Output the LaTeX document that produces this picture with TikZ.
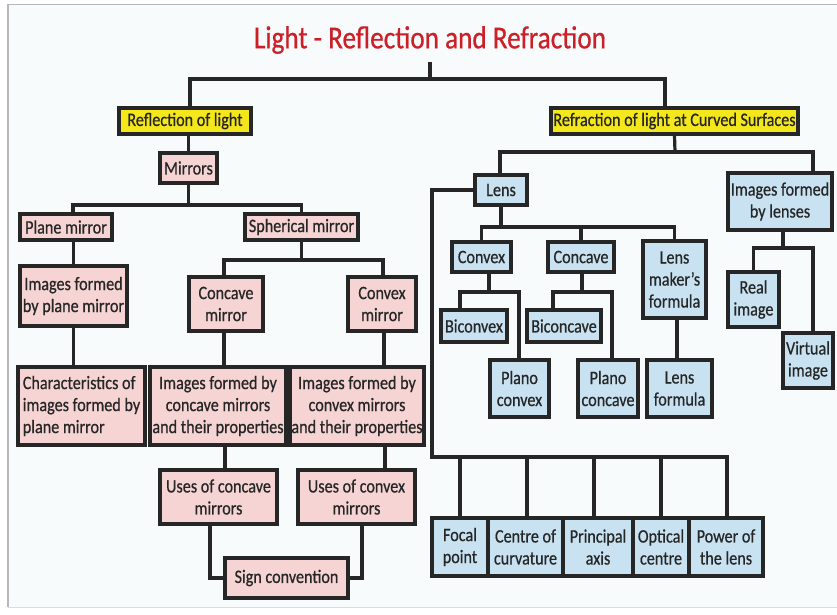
\documentclass[tikz,border=0pt]{standalone}
\usepackage{fontspec}
\setmainfont{Carlito}[FakeStretch=0.85, FakeBold=0.6]
\definecolor{linecol}{HTML}{262626}
\definecolor{textcol}{HTML}{262626}
\definecolor{titlered}{HTML}{CC2029}
\definecolor{pinkfill}{HTML}{F6D4D4}
\definecolor{bluefill}{HTML}{C8E2F2}
\definecolor{yellowfill}{HTML}{F4E81C}
\definecolor{pagebg}{HTML}{F7FBFB}
\definecolor{framecol}{HTML}{B4B8B8}
\begin{document}
\begin{tikzpicture}[x=1pt,y=-1pt,
  box/.style={draw=linecol, line width=3.2pt, text=textcol, inner sep=0pt,
    align=center, font=\fontsize{19}{22}\selectfont},
  pinkbox/.style={box, fill=pinkfill},
  bluebox/.style={box, fill=bluefill},
  yellowbox/.style={box, fill=yellowfill},
  sz/.style 2 args={minimum width=#1pt, minimum height=#2pt},
  conn/.style={draw=linecol, line width=3.2pt},
  titletext/.style={text=titlered, inner sep=2pt, font=\fontsize{32}{36}\selectfont}]

% page and frame
\useasboundingbox (0,0) rectangle (837,615);
\fill[white] (0,0) rectangle (837,615);
\fill[pagebg] (8,4.5) rectangle (837,607);
\draw[framecol, line width=1.2pt] (8,607) -- (8,4.5) -- (837,4.5);
\draw[framecol!50, line width=1pt] (8,607) -- (837,607);

% title
\node[titletext] (title) at (430,40) {Light - Reflection and Refraction};

% top level
\node[yellowbox, sz={132}{26}] (refl) at (185,121) {Reflection of light};
\node[yellowbox, sz={247}{26}] (refr) at (674.5,121) {Refraction of light at Curved Surfaces};

% reflection branch
\node[pinkbox, sz={57}{30}] (mirrors) at (188.5,168) {Mirrors};
\node[pinkbox, sz={92}{26}] (plane) at (66,227) {Plane mirror};
\node[pinkbox, sz={113}{26}] (spher) at (301.5,227) {Spherical mirror};
\node[pinkbox, sz={107}{60}] (imgplane) at (73.5,296) {Images formed\\by plane mirror};
\node[pinkbox, sz={74}{54}] (ccvmir) at (226,304) {Concave\\mirror};
\node[pinkbox, sz={68}{54}] (cvxmir) at (382,304) {Convex\\mirror};
\node[pinkbox, sz={127}{78}, align=left] (charac) at (81.5,406) {Characteristics of\\images formed by\\plane mirror};
\node[pinkbox, sz={136}{78}] (imgccv) at (218,406) {Images formed by\\concave mirrors\\and their properties};
\node[pinkbox, sz={134}{78}] (imgcvx) at (357,406) {Images formed by\\convex mirrors\\and their properties};
\node[pinkbox, sz={117}{54}] (useccv) at (218.5,497) {Uses of concave\\mirrors};
\node[pinkbox, sz={117}{54}] (usecvx) at (356.5,497) {Uses of convex\\mirrors};
\node[pinkbox, sz={123}{40}] (sign) at (286.5,578) {Sign convention};

% refraction branch
\node[bluebox, sz={52}{30}] (lens) at (501,190) {Lens};
\node[bluebox, sz={104}{57}] (imglens) at (780,201.5) {Images formed\\by lenses};
\node[bluebox, sz={59}{30}] (convex) at (481.5,257) {Convex};
\node[bluebox, sz={66}{30}] (concave) at (581,257) {Concave};
\node[bluebox, sz={63}{77}] (lmf) at (674.5,279.5) {Lens\\maker's\\formula};
\node[bluebox, sz={66}{32}] (biconvex) at (474,326) {Biconvex};
\node[bluebox, sz={59}{57}] (planocvx) at (519.5,388.5) {Plano\\convex};
\node[bluebox, sz={74}{32}] (biconcave) at (564,326) {Biconcave};
\node[bluebox, sz={60}{57}] (planoccv) at (608,388.5) {Plano\\concave};
\node[bluebox, sz={65}{57}] (lensf) at (679.5,388.5) {Lens\\formula};
\node[bluebox, sz={51}{55}] (real) at (753.5,299.5) {Real\\image};
\node[bluebox, sz={50}{55}] (virtual) at (808,360.5) {Virtual\\image};

% lens terms
\node[bluebox, sz={56}{58}] (focal) at (460,547) {Focal\\point};
\node[bluebox, sz={75}{58}] (centre) at (525.5,547) {Centre of\\curvature};
\node[bluebox, sz={70}{58}] (principal) at (598,547) {Principal\\axis};
\node[bluebox, sz={56}{58}] (optical) at (661,547) {Optical\\centre};
\node[bluebox, sz={74}{58}] (power) at (726,547) {Power of\\the lens};

% junction points
\coordinate (tj) at (430,79);
\coordinate (mj) at (188.5,205);
\coordinate (sj) at (301.5,260);
\coordinate (rj) at (675,152);
\coordinate (lj) at (501,227);
\coordinate (cvj) at (489,292);
\coordinate (ccj) at (582,292);
\coordinate (ij) at (783,248);
\coordinate (bj) at (432,457);

% connectors: title
\draw[conn] ([yshift=-6pt]title.south) -- (tj);
\draw[conn] ([xshift=5pt]refl.north) |- (tj) -| ([xshift=-9.5pt]refr.north);

% connectors: reflection
\draw[conn] (mirrors.north) -- (mirrors.north |- refl.south);
\draw[conn] (mirrors.south) -- (mj);
\draw[conn] ([xshift=7pt]plane.north) |- (mj) -| (spher.north);
\draw[conn] (imgplane.north) -- (imgplane.north |- plane.south);
\draw[conn] (spher.south) -- (sj);
\draw[conn] ([xshift=-2pt]ccvmir.north) |- (sj) -| ([xshift=1pt]cvxmir.north);
\draw[conn] (imgplane.south) -- (imgplane.south |- charac.north);
\draw[conn] ([xshift=-2pt]ccvmir.south) -- ([xshift=-2pt]ccvmir.south |- imgccv.north);
\draw[conn] ([xshift=2pt]cvxmir.south) -- ([xshift=2pt]cvxmir.south |- imgcvx.north);
\draw[conn] ([xshift=6.5pt]useccv.north) -- ([xshift=6.5pt]useccv.north |- imgccv.south);
\draw[conn] ([xshift=28.5pt]usecvx.north) -- ([xshift=28.5pt]usecvx.north |- imgcvx.south);
\draw[conn] ([xshift=-8.5pt]useccv.south) |- (sign.west);
\draw[conn] ([xshift=5.5pt]usecvx.south) |- (sign.east);

% connectors: refraction
\draw[conn] (refr.south) -- (rj);
\draw[conn] ([xshift=-1pt]lens.north) |- (rj) -| ([xshift=33pt]imglens.north);
\draw[conn] (lens.south) -- (lj);
\draw[conn] (convex.north) |- (lj) -| (lmf.north);
\draw[conn] (concave.north) -- (concave.north |- lj);
\draw[conn] ([xshift=7.5pt]convex.south) -- (cvj);
\draw[conn] ([xshift=-14pt]biconvex.north) |- (cvj) -| ([xshift=-0.5pt]planocvx.north);
\draw[conn] ([xshift=1pt]concave.south) -- (ccj);
\draw[conn] ([xshift=-11pt]biconcave.north) |- (ccj) -| ([xshift=4pt]planoccv.north);
\draw[conn] ([xshift=2.5pt]lmf.south) -- ([xshift=2.5pt]lmf.south |- lensf.north);
\draw[conn] ([xshift=3pt]imglens.south) -- (ij);
\draw[conn] (real.north) |- (ij) -| ([xshift=5pt]virtual.north);

% connectors: lens terms
\draw[conn] (lens.west) -| (bj) -| ([xshift=1pt]power.north);
\draw[conn] (focal.north) -- (focal.north |- bj);
\draw[conn] ([xshift=1.5pt]centre.north) -- ([xshift=1.5pt]centre.north |- bj);
\draw[conn] ([xshift=-4pt]principal.north) -- ([xshift=-4pt]principal.north |- bj);
\draw[conn] (optical.north) -- (optical.north |- bj);
\end{tikzpicture}
\end{document}
